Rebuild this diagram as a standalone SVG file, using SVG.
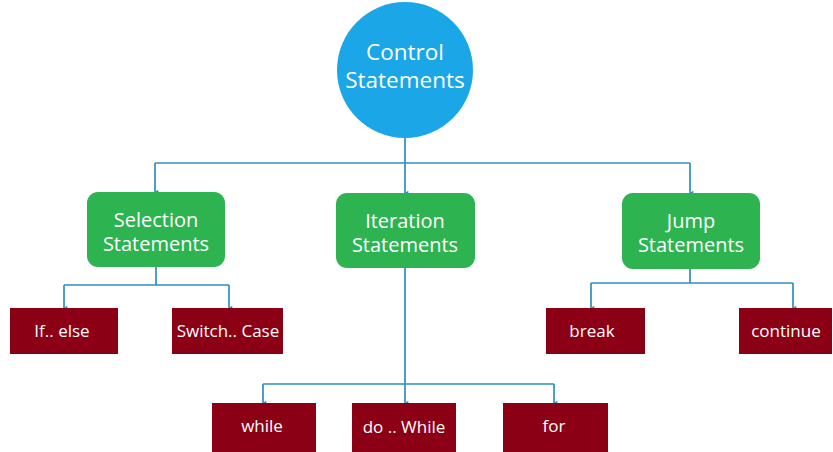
<svg xmlns="http://www.w3.org/2000/svg" width="833" height="452" viewBox="0 0 833 452">
<defs>
<marker id="arr" viewBox="0 0 6 6" refX="3" refY="5" markerWidth="5" markerHeight="5" orient="auto-start-reverse" markerUnits="userSpaceOnUse">
<path d="M0,1 L3,5 L6,1 Z" fill="#2f8fbf"/>
</marker>
<style>
.c{fill:none;stroke:#2f8fbf;stroke-width:1.7}
.g{fill:#2db451}
.r{fill:#8c0016}
text{font-family:"Open Sans","Noto Sans","Liberation Sans",sans-serif;fill:#ffffff;text-anchor:middle}
.t1{font-size:22.5px}
.t2{font-size:20px}
.t3{font-size:17px}
</style>
</defs>
<rect width="833" height="452" fill="#ffffff"/>
<g id="connectors">
<path class="c" d="M405,137 V163"/>
<path class="c" d="M155,163 H690"/>
<path class="c" d="M155,163 V192" marker-end="url(#arr)"/>
<path class="c" d="M405,163 V193" marker-end="url(#arr)"/>
<path class="c" d="M690,163 V193" marker-end="url(#arr)"/>
<path class="c" d="M156,267 V285 M64,285 H229"/>
<path class="c" d="M64,285 V308" marker-end="url(#arr)"/>
<path class="c" d="M229,285 V308" marker-end="url(#arr)"/>
<path class="c" d="M405,268 V384 M263,384 H554"/>
<path class="c" d="M263,384 V403" marker-end="url(#arr)"/>
<path class="c" d="M405,384 V403" marker-end="url(#arr)"/>
<path class="c" d="M554,384 V403" marker-end="url(#arr)"/>
<path class="c" d="M690,269 V283 M591,283 H793"/>
<path class="c" d="M591,283 V308" marker-end="url(#arr)"/>
<path class="c" d="M793,283 V308" marker-end="url(#arr)"/>
</g>
<g id="control">
<circle cx="405" cy="70" r="68" fill="#1ba6e8"/>
<text class="t1" x="405" y="60">Control</text>
<text class="t1" x="405" y="88">Statements</text>
</g>
<g id="selection">
<rect class="g" x="87" y="192" width="138" height="75" rx="11"/>
<text class="t2" x="156" y="227">Selection</text>
<text class="t2" x="156" y="251">Statements</text>
</g>
<g id="iteration">
<rect class="g" x="336" y="193" width="139" height="75" rx="11"/>
<text class="t2" x="405" y="228">Iteration</text>
<text class="t2" x="405" y="252">Statements</text>
</g>
<g id="jump">
<rect class="g" x="622" y="193" width="138" height="76" rx="11"/>
<text class="t2" x="691" y="228">Jump</text>
<text class="t2" x="691" y="252">Statements</text>
</g>
<g id="ifelse">
<rect class="r" x="10" y="308" width="108" height="46"/>
<text class="t3" x="62" y="337">If.. else</text>
</g>
<g id="switch">
<rect class="r" x="172" y="308" width="111" height="46"/>
<text class="t3" x="228" y="337">Switch.. Case</text>
</g>
<g id="break">
<rect class="r" x="546" y="308" width="99" height="46"/>
<text class="t3" x="592" y="337">break</text>
</g>
<g id="continue">
<rect class="r" x="739" y="308" width="93" height="46"/>
<text class="t3" x="786" y="337">continue</text>
</g>
<g id="while">
<rect class="r" x="212" y="403" width="104" height="49"/>
<text class="t3" x="262" y="432">while</text>
</g>
<g id="dowhile">
<rect class="r" x="352" y="403" width="104" height="49"/>
<text class="t3" x="404" y="433">do .. While</text>
</g>
<g id="for">
<rect class="r" x="503" y="403" width="105" height="49"/>
<text class="t3" x="554" y="432">for</text>
</g>
</svg>
